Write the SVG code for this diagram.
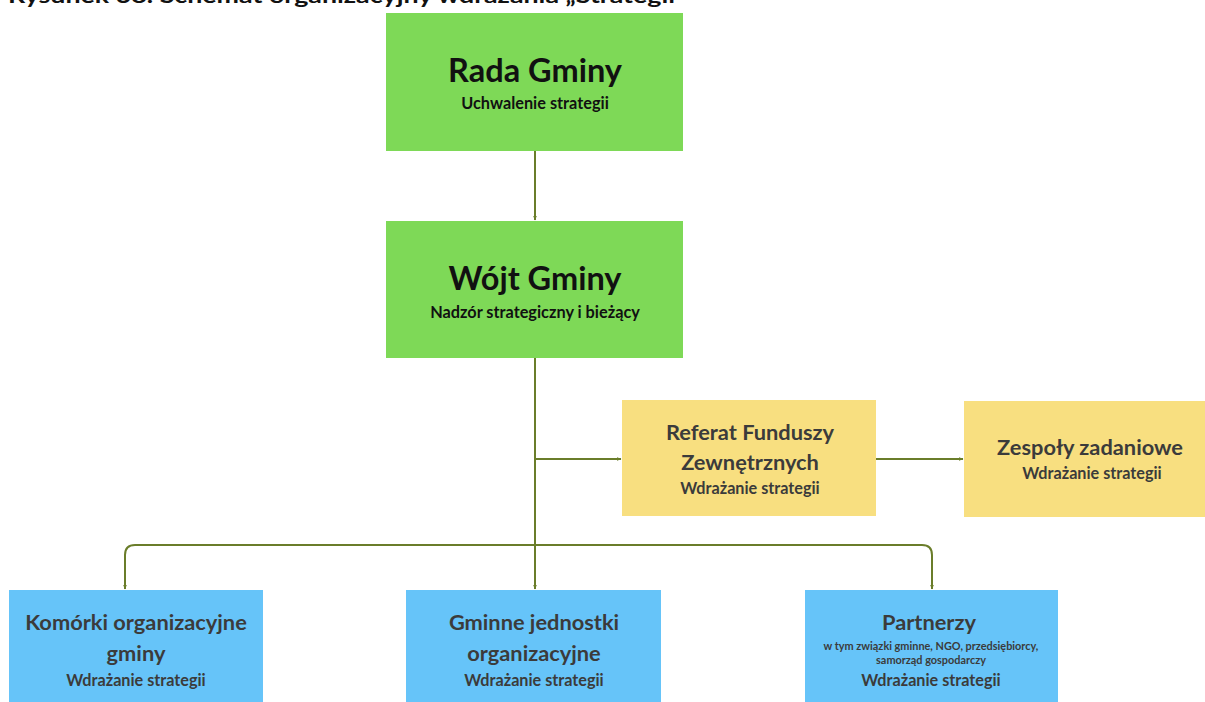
<svg xmlns="http://www.w3.org/2000/svg" width="1205" height="702" viewBox="0 0 1205 702">
<style>
  text { font-family: Lato, "Open Sans", "Liberation Sans", sans-serif; text-anchor: middle; }
  .green { fill: #7ED957; }
  .yellow { fill: #F8DF80; }
  .blue { fill: #66C4F9; }
  .h1 { font-size: 32.5px; font-weight: 700; fill: #111; }
  .s1 { font-size: 16.3px; font-weight: 700; fill: #111; }
  .h2 { font-size: 21.8px; font-weight: 700; fill: #3b3b3b; }
  .s2 { font-size: 16.2px; font-weight: 700; fill: #3b3b3b; }
  .s3 { font-size: 10.9px; font-weight: 700; fill: #3b3b3b; }
  .conn { fill: none; stroke: #6A7D2A; stroke-width: 2; }
</style>
<defs>
  <marker id="arr" viewBox="0 0 10 10" refX="9" refY="5" markerWidth="5" markerHeight="5" orient="auto" markerUnits="userSpaceOnUse">
    <path d="M0,1 L10,5 L0,9 Z" fill="#6A7D2A"/>
  </marker>
</defs>
<rect width="1205" height="702" fill="#fff"/>
<text x="8" y="3" style="text-anchor:start;font-size:20px;font-weight:700;fill:#111" textLength="667" lengthAdjust="spacingAndGlyphs">Rysunek 38. Schemat organizacyjny wdrażania „Strategii</text>

<g id="connectors">
  <line class="conn" x1="535" y1="151" x2="535" y2="220" marker-end="url(#arr)"/>
  <line class="conn" x1="535" y1="358" x2="535" y2="589" marker-end="url(#arr)"/>
  <line class="conn" x1="535" y1="459" x2="621" y2="459" marker-end="url(#arr)"/>
  <line class="conn" x1="876" y1="459" x2="963" y2="459" marker-end="url(#arr)"/>
  <path class="conn" d="M535,545 H135 Q125,545 125,555 V589" marker-end="url(#arr)"/>
  <path class="conn" d="M535,545 H922 Q932,545 932,555 V589" marker-end="url(#arr)"/>
</g>

<g id="rada">
  <rect class="green" x="386" y="13" width="297" height="138"/>
  <text class="h1" x="535" y="82">Rada Gminy</text>
  <text class="s1" x="535" y="109">Uchwalenie strategii</text>
</g>
<g id="wojt">
  <rect class="green" x="386" y="221" width="297" height="137"/>
  <text class="h1" x="535" y="290">Wójt Gminy</text>
  <text class="s1" x="535" y="318">Nadzór strategiczny i bieżący</text>
</g>
<g id="referat">
  <rect class="yellow" x="622" y="400" width="254" height="116"/>
  <text class="h2" x="750" y="440">Referat Funduszy</text>
  <text class="h2" x="750" y="470">Zewnętrznych</text>
  <text class="s2" x="750" y="494">Wdrażanie strategii</text>
</g>
<g id="zespoly">
  <rect class="yellow" x="964" y="401" width="241" height="116"/>
  <text class="h2" x="1090" y="455">Zespoły zadaniowe</text>
  <text class="s2" x="1092" y="479">Wdrażanie strategii</text>
</g>
<g id="komorki">
  <rect class="blue" x="9" y="590" width="254" height="112"/>
  <text class="h2" x="136" y="630">Komórki organizacyjne</text>
  <text class="h2" x="136" y="661">gminy</text>
  <text class="s2" x="136" y="686">Wdrażanie strategii</text>
</g>
<g id="gminne">
  <rect class="blue" x="406" y="590" width="255" height="112"/>
  <text class="h2" x="534" y="630">Gminne jednostki</text>
  <text class="h2" x="534" y="661">organizacyjne</text>
  <text class="s2" x="534" y="686">Wdrażanie strategii</text>
</g>
<g id="partnerzy">
  <rect class="blue" x="805" y="590" width="253" height="112"/>
  <text class="h2" x="929" y="630">Partnerzy</text>
  <text class="s3" x="931" y="650">w tym związki gminne, NGO, przedsiębiorcy,</text>
  <text class="s3" x="931" y="664">samorząd gospodarczy</text>
  <text class="s2" x="931" y="686">Wdrażanie strategii</text>
</g>
</svg>
